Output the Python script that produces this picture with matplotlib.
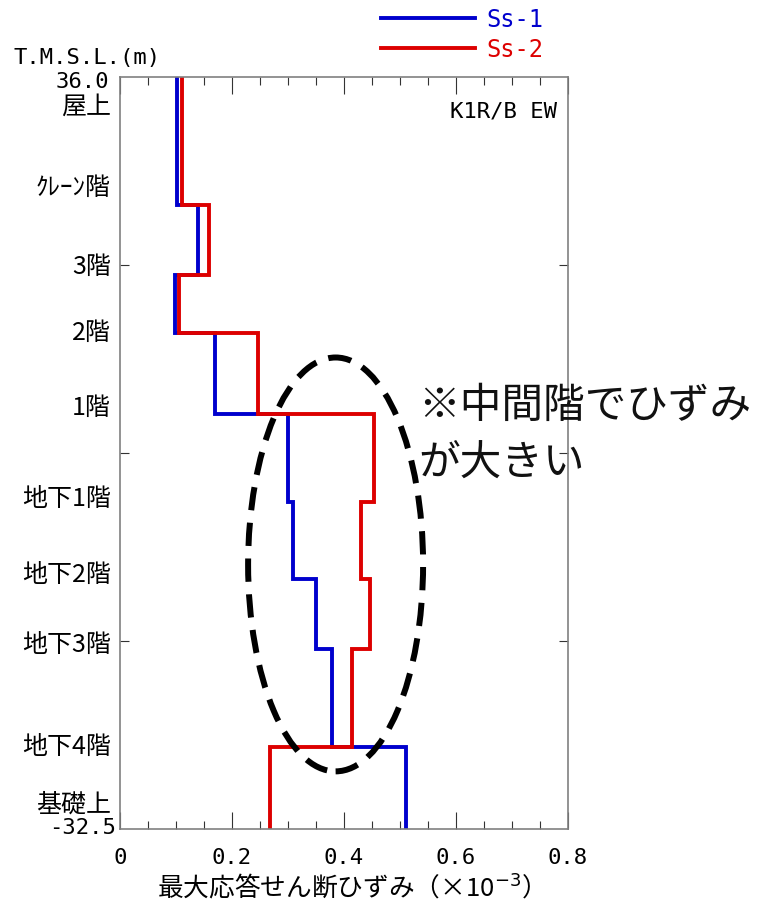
import numpy as np
import matplotlib
matplotlib.use('Agg')
import matplotlib.pyplot as plt
from matplotlib.patches import Ellipse

plt.rcParams['font.family'] = ['Noto Sans CJK JP', 'DejaVu Sans']
MONO = 'DejaVu Sans Mono'

# 区間境界の標高 T.M.S.L.(m)
elev = [36.0, 24.3, 18.0, 12.7, 5.3, -2.7, -9.7, -16.1, -25.0, -32.5]
# 最大応答せん断ひずみ (x10^-3)
ss1 = [0.102, 0.139, 0.098, 0.170, 0.300, 0.309, 0.350, 0.379, 0.510]
ss2 = [0.111, 0.159, 0.106, 0.247, 0.454, 0.431, 0.446, 0.415, 0.268]

floor_names = ['屋上', 'ｸﾚｰﾝ階', '3階', '2階', '1階',
               '地下1階', '地下2階', '地下3階', '地下4階', '基礎上']
floor_y = [33.4, 26.0, 18.8, 12.8, 5.9, -2.3, -9.3, -15.6, -24.9, -30.2]

xticks = [0, 0.2, 0.4, 0.6, 0.8]
xticklabels = ['0', '0.2', '0.4', '0.6', '0.8']

# 注記の楕円 (中心, 幅, 高さ)
oval_center = (0.385, -8.4)
oval_w, oval_h = 0.3125, 37.7


def step_xy(vals):
    x = np.repeat(vals, 2)
    y = np.column_stack([elev[:-1], elev[1:]]).ravel()
    return x, y


fig = plt.figure(figsize=(7.6, 9.04), dpi=100)
ax = fig.add_axes([120 / 760, 1 - 830 / 904, 448 / 760, 752 / 904])

x1, y1 = step_xy(ss1)
x2, y2 = step_xy(ss2)
ax.plot(x1, y1, color='#0000CD', lw=2.8, solid_joinstyle='miter', label='Ss-1')
ax.plot(x2, y2, color='#DD0000', lw=2.8, solid_joinstyle='miter', label='Ss-2')

ax.set_xlim(0, 0.8)
ax.set_ylim(elev[-1], elev[0])

ax.set_xticks(xticks)
ax.set_xticklabels(xticklabels, family=MONO, fontsize=16)
ax.set_xticks(np.arange(0, 0.801, 0.05), minor=True)
ax.tick_params(axis='x', which='major', direction='in', length=12, width=0.8,
               top=True, pad=13, color='#333333')
ax.tick_params(axis='x', which='minor', direction='in', length=6, width=0.8,
               top=True, color='#333333')
ax.set_yticks(np.linspace(elev[-1], elev[0], 5)[1:-1])
ax.set_yticklabels([])
ax.tick_params(axis='y', direction='in', length=6.5, width=0.8, right=True,
               color='#333333')
for sp in ax.spines.values():
    sp.set_color('#808080')
    sp.set_linewidth(1.2)

# 階名ラベル
ytr = ax.get_yaxis_transform()
for name, y in zip(floor_names, floor_y):
    ax.text(-0.02, y, name, transform=ytr, ha='right', va='center', fontsize=18)
ax.text(-0.025, 35.6, '36.0', transform=ytr, ha='right', va='center',
        family=MONO, fontsize=16)
ax.text(-0.01, -32.3, '-32.5', transform=ytr, ha='right', va='center',
        family=MONO, fontsize=16)
fig.text(13 / 760, 1 - 58 / 904, 'T.M.S.L.(m)', ha='left', va='center',
         family=MONO, fontsize=16)

ax.text(0.975, 0.955, 'K1R/B EW', transform=ax.transAxes, ha='right',
        va='center', family=MONO, fontsize=16)

ax.set_xlabel('最大応答せん断ひずみ（×10$^{-3}$）', fontsize=18.5, labelpad=3)

# 凡例
ax.legend(loc='upper left', bbox_to_anchor=(381 / 760, 1 - 8 / 904),
          bbox_transform=fig.transFigure, frameon=False, handlelength=4.0,
          handletextpad=0.45, labelspacing=0.25, borderpad=0, borderaxespad=0,
          labelcolor='linecolor', prop={'family': MONO, 'size': 17})

# 注記
ax.add_patch(Ellipse(oval_center, oval_w, oval_h, fill=False, ec='black',
                     lw=4.3, ls=(0, (3.9, 2.1)), clip_on=False, zorder=5))
fig.text(418 / 760, 1 - 435 / 904, '※中間階でひずみ\nが大きい', ha='left',
         va='center', fontsize=30, linespacing=1.5, color='#111111')

fig.savefig('out.png', dpi=100)
